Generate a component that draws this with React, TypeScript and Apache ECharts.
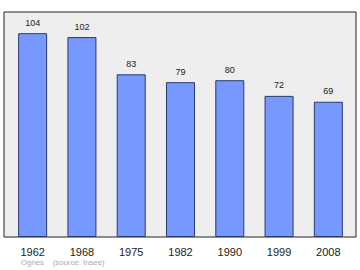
import React, { useEffect, useRef } from "react";
import * as echarts from "echarts";

const categories = ["1962", "1968", "1975", "1982", "1990", "1999", "2008"];
const values = [104, 102, 83, 79, 80, 72, 69];

export default function App() {
  const ref = useRef<HTMLDivElement>(null);
  useEffect(() => {
    const chart = echarts.init(ref.current!, null, { renderer: "svg" });
    chart.setOption({
      animation: false,
      grid: [
        {
          left: 4,
          right: 4,
          top: 12,
          bottom: 33,
          show: true,
          backgroundColor: "#eeeeee",
          borderColor: "#222222",
          borderWidth: 1,
        },
        {
          left: 8,
          right: 7,
          top: 12,
          bottom: 33,
        },
      ],
      xAxis: [
        { type: "category", gridIndex: 0, show: false, data: [""] },
        {
          type: "category",
          gridIndex: 1,
          data: categories,
          axisLine: { show: false },
          axisTick: { show: false },
          axisLabel: {
            color: "#222222",
            fontSize: 11,
            fontFamily: "Liberation Sans",
            margin: 9,
          },
        },
      ],
      yAxis: [
        { type: "value", gridIndex: 0, show: false, splitLine: { show: false } },
        {
          type: "value",
          gridIndex: 1,
          min: 0,
          max: 114.8,
          show: false,
          splitLine: { show: false },
        },
      ],
      graphic: [
        {
          type: "text",
          left: 21,
          top: 258,
          style: {
            text: "Ognes    (source: Insee)",
            fill: "#aaaaaa",
            fontSize: 7.8,
            fontFamily: "Liberation Sans",
          },
        },
      ],
      series: [
        {
          type: "bar",
          xAxisIndex: 1,
          yAxisIndex: 1,
          data: values,
          barWidth: 29,
          itemStyle: {
            color: "#7799ff",
            borderColor: "#2a3a6a",
            borderWidth: 1,
          },
          label: {
            show: true,
            position: "top",
            distance: 6,
            color: "#222222",
            fontSize: 9,
            fontFamily: "Liberation Sans",
          },
        },
      ],
    });
    return () => chart.dispose();
  }, []);
  return <div ref={ref} style={{ width: 360, height: 270, position: "absolute", left: 0, top: 0 }} />;
}
